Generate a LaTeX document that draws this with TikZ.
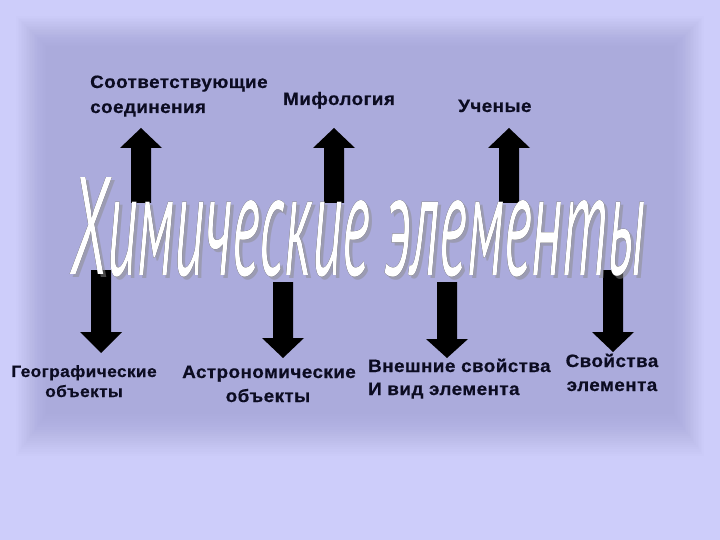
\documentclass[tikz,border=0pt]{standalone}
\usepackage{fontspec}
\setmainfont{Liberation Sans}[LetterSpace=2.5, FakeStretch=1.05, BoldFeatures={FakeBold=0.5}]
\newfontfamily\titlefont{PT Sans}
\usepackage[outline]{contour}
\contournumber{32}
\contourlength{1.2pt}
\definecolor{bgout}{HTML}{CDCDFA}
\definecolor{bgdark}{HTML}{7E7EB4}
\definecolor{ink}{HTML}{0C0C22}
\newcommand{\chemtitle}{\titlefont\itshape\resizebox{37bp}{97bp}{Х}\resizebox{538bp}{75bp}{имические элементы}}
\tikzset{
  lbl/.style={inner sep=0pt, text=ink, font=\bfseries\fontsize{18}{20}\selectfont},
  lblsmall/.style={lbl, font=\bfseries\fontsize{16.5}{19}\selectfont},
  blockarrow/.style={fill=black, draw=none},
}
\begin{document}
\begin{tikzpicture}[x=1bp,y=-1bp]
\useasboundingbox (0,0) rectangle (720,540);
% background
\fill[bgout] (0,0) rectangle (720,540);
\foreach \i in {0,...,19}{
  \fill[bgdark, opacity=0.021] (16+\i*1.6,16+\i*1.6) rectangle (704-\i*1.6,456-\i*2.2);
}
% up arrows
\foreach \cx in {141,334,509}{
  \fill[blockarrow] (\cx-10,203) -- (\cx-10,148) -- (\cx-21,148) -- (\cx,128)
     -- (\cx+21,148) -- (\cx+10,148) -- (\cx+10,203) -- cycle;
}
% down arrows
\foreach \cx/\top/\base/\tip in {101/270/332/353, 283/282/338/358, 447/282/339/358, 613/270/332/352}{
  \fill[blockarrow] (\cx-10,\top) -- (\cx-10,\base) -- (\cx-21,\base) -- (\cx,\tip)
     -- (\cx+21,\base) -- (\cx+10,\base) -- (\cx+10,\top) -- cycle;
}
% title shadow and title
\node[anchor=base west, inner sep=0pt, text=black!45, opacity=0.5] (titleshadow) at (73,278)
  {\chemtitle};
\node[anchor=base west, inner sep=0pt, text=white] (title) at (70,275)
  {\contour{black}{\chemtitle}};
% top labels
\node[lbl, anchor=base west] (t1a) at (90,88) {Соответствующие};
\node[lbl, anchor=base west] (t1b) at (90,113) {соединения};
\node[lbl, anchor=base west] (t2) at (283,105) {Мифология};
\node[lbl, anchor=base west] (t3) at (458,112) {Ученые};
% bottom labels
\node[lblsmall, anchor=base] (b1a) at (84,377) {Географические};
\node[lblsmall, anchor=base] (b1b) at (84,397) {объекты};
\node[lbl, anchor=base] (b2a) at (269,378) {Астрономические};
\node[lbl, anchor=base] (b2b) at (268,402) {объекты};
\node[lbl, anchor=base west] (b3a) at (368,372) {Внешние свойства};
\node[lbl, anchor=base west] (b3b) at (368,395) {И вид элемента};
\node[lbl, anchor=base] (b4a) at (612,367) {Свойства};
\node[lbl, anchor=base] (b4b) at (612,391) {элемента};
\end{tikzpicture}
\end{document}
